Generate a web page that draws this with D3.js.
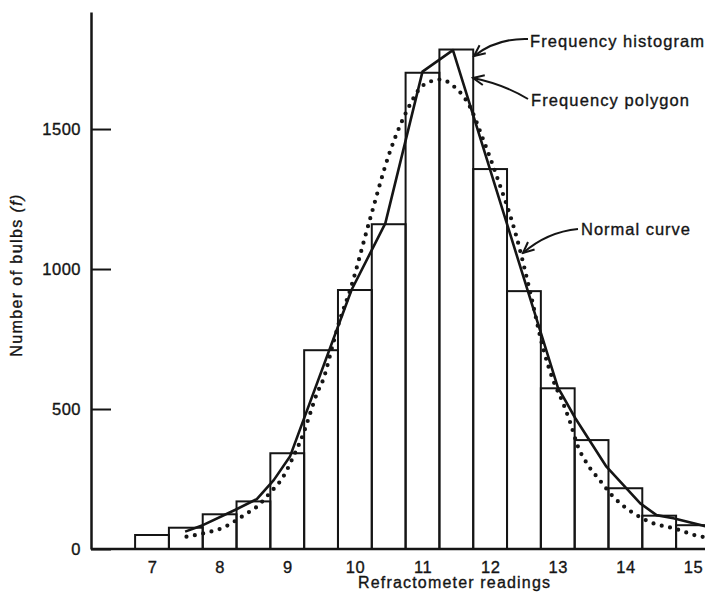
<!DOCTYPE html>
<html><head><meta charset="utf-8">
<script src="https://cdn.jsdelivr.net/npm/d3@7"></script>
<style>
body{margin:0;background:#fff;}
svg{display:block;}
text{font-family:"Liberation Sans", Arial, Helvetica, sans-serif; fill:#151515; stroke:#151515; stroke-width:0.35px;}
</style></head><body>
<svg id="chart" width="705" height="595"></svg>
<script>
// ---- data ----
const readings = [7,7.5,8,8.5,9,9.5,10,10.5,11,11.5,12,12.5,13,13.5,14,14.5,15];
const frequencies = [50,76,124,170,342,710,925,1160,1701,1784,1357,921,574,389,217,119,85];
const xTickValues = [7,8,9,10,11,12,13,14,15];
const xTickLabels = ["7","8","9","10","11","12","13","14","15"];
const yTickValues = [0,500,1000,1500];
const yTickLabels = ["0","500","1000","1500"];
const polygonX = [7.49,7.76,8.25,8.55,8.8,9.04,9.95,10.45,11.0,11.45,13.0,13.26,13.72,14.22,14.46,14.71,15.2];
const polygonF = [62,86,142,178,246,330,925,1163,1705,1782,578,467,294,163,121,110,80];
const normalX = [7.51,7.76,8.03,8.4,8.55,8.74,8.94,9.09,9.24,9.34,9.44,9.53,9.68,9.77,9.93,10.22,10.52,10.8,10.96,11.11,11.27,11.45,11.7,11.9,12.1,12.39,12.59,12.79,12.93,13.08,13.18,13.3,13.43,13.62,13.82,14.12,14.41,14.71,15.13,15.2];
const normalF = [44,56,74,127,151,199,258,330,413,485,556,604,735,812,925,1175,1420,1580,1645,1669,1677,1655,1580,1461,1330,1115,920,711,604,520,455,365,306,246,187,128,92,74,44,42];
const annotationLabels = ["Frequency histogram","Frequency polygon","Normal curve"];
const xTitle = "Refractometer readings";
const yTitle = "Number of bulbs ";
const yTitleItalic = "(f)";
const binWidth = 0.5;

// ---- drawing ----
const svg = d3.select("#chart");
const ink = "#151515";
const x = d3.scaleLinear().domain([7,15]).range([152,693]);
const y = d3.scaleLinear().domain([0,1918]).range([549,12]);
const axisX = 91;

// histogram bars
svg.append("g").selectAll("rect").data(readings).join("rect")
  .attr("x", d => x(d - binWidth/2))
  .attr("width", d => x(d + binWidth/2) - x(d - binWidth/2))
  .attr("y", (d,i) => y(frequencies[i]))
  .attr("height", (d,i) => y(0) - y(frequencies[i]))
  .attr("fill", "none").attr("stroke", ink).attr("stroke-width", 2);

// normal curve (dotted)
const normalPts = normalX.map((v,i) => [v, normalF[i]]);
svg.append("path").datum(normalPts)
  .attr("d", d3.line().x(d => x(d[0])).y(d => y(d[1])).curve(d3.curveMonotoneX))
  .attr("fill","none").attr("stroke", ink).attr("stroke-width", 4.2)
  .attr("stroke-linecap","round").attr("stroke-dasharray","0 8.5");

// frequency polygon (solid)
const polyPts = polygonX.map((v,i) => [v, polygonF[i]]);
svg.append("path").datum(polyPts)
  .attr("d", d3.line().x(d => x(d[0])).y(d => y(d[1])))
  .attr("fill","none").attr("stroke", ink).attr("stroke-width", 2.6)
  .attr("stroke-linejoin","round");

// y axis
const yAxis = d3.axisLeft(y).tickValues(yTickValues).tickFormat((d,i) => yTickLabels[i])
  .tickSizeInner(-20).tickSizeOuter(0).tickPadding(10);
const gy = svg.append("g").attr("transform", `translate(${axisX},0)`).call(yAxis);
gy.select(".domain").attr("stroke", ink).attr("stroke-width", 2.5);
gy.selectAll(".tick line").attr("stroke", ink).attr("stroke-width", 2);
gy.selectAll(".tick text").attr("font-size", 16.5).attr("fill", ink)
  .attr("font-family", '"Liberation Sans", Arial, sans-serif').attr("letter-spacing", 0.5);

// x axis
const xAxis = d3.axisBottom(x).tickValues(xTickValues).tickFormat((d,i) => xTickLabels[i])
  .tickSize(0).tickPadding(12);
const gx = svg.append("g").attr("transform", `translate(0,${y(0)})`).call(xAxis);
gx.select(".domain").remove();
gx.selectAll(".tick text").attr("font-size", 16.5).attr("fill", ink)
  .attr("font-family", '"Liberation Sans", Arial, sans-serif').attr("letter-spacing", 0.5);
svg.append("line").attr("x1", axisX).attr("x2", 705).attr("y1", y(0)).attr("y2", y(0))
  .attr("stroke", ink).attr("stroke-width", 2.5);

// axis titles
svg.append("text").attr("x", 454).attr("y", 588).attr("text-anchor","middle")
  .attr("font-size", 16).attr("textLength", 192).attr("lengthAdjust","spacing").text(xTitle);
const yt = svg.append("text").attr("transform","translate(22,275) rotate(-90)")
  .attr("text-anchor","middle").attr("font-size", 16).attr("letter-spacing", 1.4);
yt.append("tspan").text(yTitle);
yt.append("tspan").attr("font-style","italic").text(yTitleItalic);

// annotations
const defs = svg.append("defs");
defs.append("marker").attr("id","arrow").attr("markerUnits","userSpaceOnUse")
  .attr("viewBox","-12 -7 14 14").attr("markerWidth",14).attr("markerHeight",14)
  .attr("refX",0).attr("refY",0).attr("orient","auto")
  .append("path").attr("d","M-11,-5 L0,0 L-11,5").attr("fill","none")
  .attr("stroke", ink).attr("stroke-width", 2);

const annText = [[530,47],[531,106],[581,235]];
const annWidth = [174,158,109];
const annPaths = ["M528,39 Q497,38 474,56","M528,99 Q503,84 473,78","M578,229 Q547,232 523,253"];
annotationLabels.forEach((t,i) => {
  svg.append("text").attr("x", annText[i][0]).attr("y", annText[i][1])
    .attr("font-size", 16.5).attr("textLength", annWidth[i]).attr("lengthAdjust","spacing").text(t);
  svg.append("path").attr("d", annPaths[i]).attr("fill","none").attr("stroke", ink)
    .attr("stroke-width", 2).attr("marker-end","url(#arrow)");
});
</script>
</body></html>
